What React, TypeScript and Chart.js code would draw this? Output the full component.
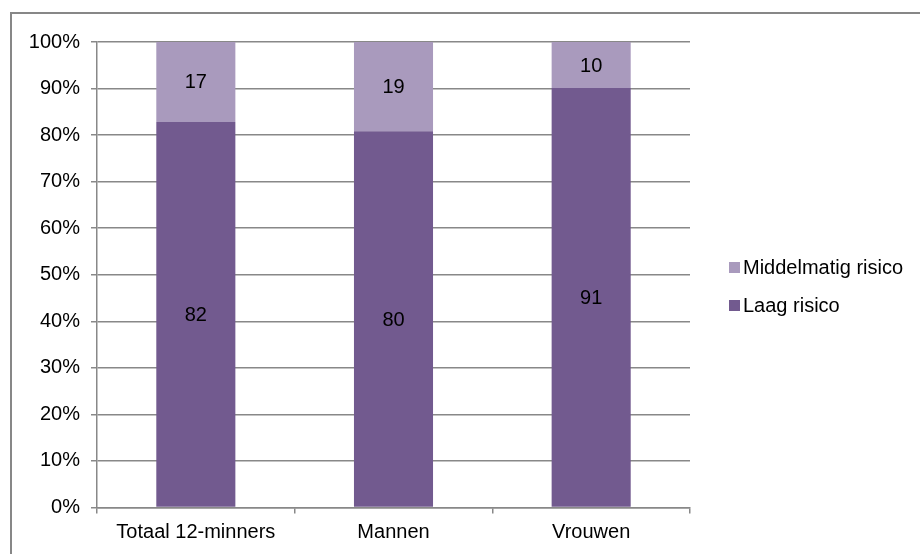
import React, { useEffect, useRef } from "react";
import { Chart, registerables } from "chart.js";

Chart.register(...registerables);

const categories = ["Totaal 12-minners", "Mannen", "Vrouwen"];
const laagRisico = [82, 80, 91];
const middelmatigRisico = [17, 19, 10];
const seriesNames = ["Laag risico", "Middelmatig risico"];
const seriesColors = ["#725A8F", "#A99ABD"];
const yTicks = [0, 10, 20, 30, 40, 50, 60, 70, 80, 90, 100];

const FONT = "'Liberation Sans', Arial, sans-serif";
const GRID = "#888888";

export default function App() {
  const ref = useRef<HTMLCanvasElement | null>(null);

  useEffect(() => {
    if (!ref.current) return;
    const totals = categories.map((_, i) => laagRisico[i] + middelmatigRisico[i]);
    const raw = [laagRisico, middelmatigRisico];
    const pct = raw.map((arr) => arr.map((v, i) => (v / totals[i]) * 100));

    const labelPlugin = {
      id: "segLabels",
      afterDatasetsDraw(chart: any) {
        const ctx = chart.ctx;
        ctx.save();
        ctx.font = `20px ${FONT}`;
        ctx.fillStyle = "#000";
        ctx.textAlign = "center";
        ctx.textBaseline = "middle";
        chart.data.datasets.forEach((ds: any, di: number) => {
          const meta = chart.getDatasetMeta(di);
          meta.data.forEach((bar: any, i: number) => {
            const y = (bar.y + bar.base) / 2;
            ctx.fillText(String(raw[di][i]), bar.x, y + 1);
          });
        });
        ctx.restore();
      },
    };

    const chart = new Chart(ref.current, {
      type: "bar",
      data: {
        labels: categories,
        datasets: pct.map((d, i) => ({
          label: seriesNames[i],
          data: d,
          backgroundColor: seriesColors[i],
          borderWidth: 0,
          barPercentage: 0.4,
          categoryPercentage: 1,
        })),
      },
      options: {
        animation: false,
        responsive: false,
        maintainAspectRatio: false,
        devicePixelRatio: 1,
        layout: { padding: { top: 42, right: 230, bottom: 0, left: 0 } },
        plugins: {
          legend: { display: false },
          tooltip: { enabled: false },
        },
        scales: {
          x: {
            stacked: true,
            afterFit: (s: any) => {
              s.height = 46.5;
            },
            grid: {
              display: true,
              drawOnChartArea: false,
              drawTicks: true,
              tickLength: 6,
              color: GRID,
              lineWidth: 1.5,
              offset: true,
            },
            border: { display: true, color: GRID, width: 1.5 },
            ticks: {
              color: "#000",
              font: { family: FONT, size: 20 },
              padding: 7,
              maxRotation: 0,
            },
          },
          y: {
            stacked: true,
            min: 0,
            max: 100,
            afterFit: (s: any) => {
              s.width = 97;
            },
            afterBuildTicks: (s: any) => {
              s.ticks = yTicks.map((v) => ({ value: v }));
            },
            grid: {
              color: GRID,
              lineWidth: 1.5,
              drawTicks: true,
              tickLength: 6,
            },
            border: { display: true, color: GRID, width: 1.5 },
            ticks: {
              color: "#000",
              font: { family: FONT, size: 20 },
              padding: 11,
              callback: (v: any) => `${v}%`,
            },
          },
        },
      },
      plugins: [labelPlugin],
    });
    return () => chart.destroy();
  }, []);

  const legendItems = [1, 0];

  return (
    <div
      style={{
        position: "absolute",
        left: 0,
        top: 0,
        width: 920,
        height: 554,
        background: "#fff",
        overflow: "hidden",
        fontFamily: FONT,
      }}
    >
      <div
        style={{
          position: "absolute",
          left: 10,
          top: 12,
          width: 940,
          height: 600,
          border: "2px solid #878787",
          boxSizing: "border-box",
        }}
      />
      <canvas ref={ref} width={920} height={554} style={{ position: "absolute", left: 0, top: 0 }} />
      {legendItems.map((si, k) => (
        <div
          key={si}
          style={{
            position: "absolute",
            left: 729,
            top: 267 + k * 38 - 12,
            height: 24,
            display: "flex",
            alignItems: "center",
            fontSize: 20,
            color: "#000",
            whiteSpace: "nowrap",
          }}
        >
          <span
            style={{
              display: "inline-block",
              width: 11,
              height: 11,
              background: seriesColors[si],
              marginRight: 3,
            }}
          />
          {seriesNames[si]}
        </div>
      ))}
    </div>
  );
}
